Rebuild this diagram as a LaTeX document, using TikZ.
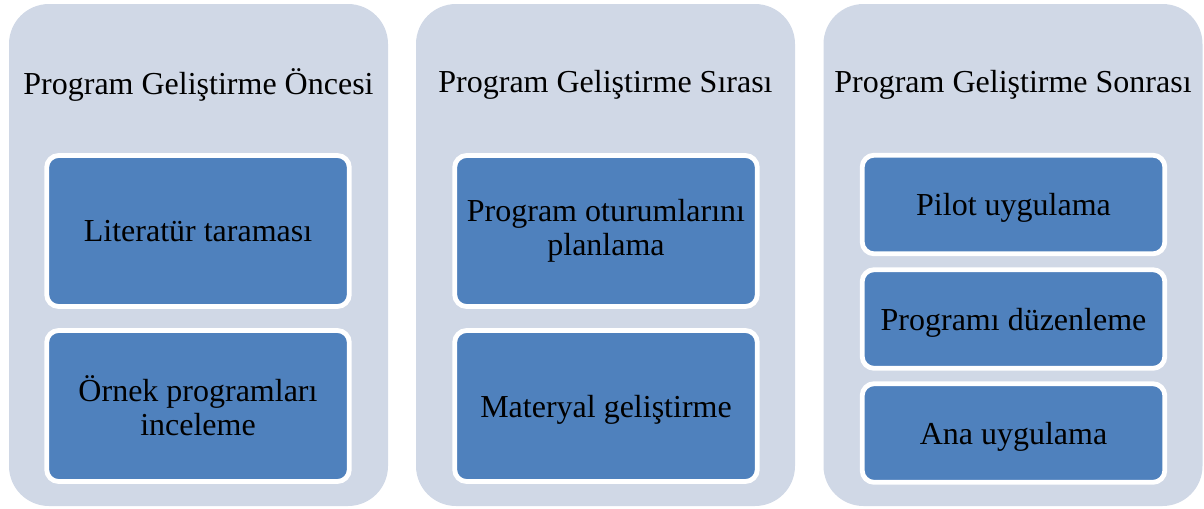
\documentclass[tikz,border=0pt]{standalone}
\usepackage{fontspec}
\setmainfont{Liberation Serif}
\usepackage{tikz}

\definecolor{panelfill}{RGB}{208,216,230}
\definecolor{boxfill}{RGB}{79,129,189}

\tikzset{
  panel/.style={fill=panelfill, rounded corners=30pt, minimum width=284.25pt, minimum height=376.5pt, inner sep=0pt},
  stage/.style={font=\fontsize{24}{26}\selectfont},
  stepbox/.style={fill=boxfill, draw=white, line width=3.6pt, rounded corners=9pt, minimum width=227pt, inner sep=0pt, align=center, font=\fontsize{24}{25.5}\selectfont},
  oneline/.style={text depth=0pt},
  tall/.style={minimum height=113.25pt},
  short/.style={minimum height=74pt}
}

\begin{document}
\begin{tikzpicture}[x=0.75pt,y=-0.75pt]
            \useasboundingbox (0,0) rectangle (1204,508);
            % panels
            \node[panel] (pre) at (198.5,255) {};
            \node[panel] (dur) at (605.5,255) {};
            \node[panel] (post) at (1013,255) {};
            \node[stage] (preT) at (198.5,85) {Program Geliştirme Öncesi};
            \node[stage] (durT) at (605.5,85) {Program Geliştirme Sırası};
            \node[stage] (postT) at (1013,85) {Program Geliştirme Sonrası};
            % boxes
            \node[stepbox, tall, oneline] (lit) at (198,231) {Literatür taraması};
            \node[stepbox, tall] (ornek) at (198,406) {Örnek programları\\inceleme};
            \node[stepbox, tall] (plan) at (606,231) {Program oturumlarını\\planlama};
            \node[stepbox, tall, oneline] (mat) at (606,406) {Materyal geliştirme};
            \node[stepbox, short, oneline] (pilot) at (1013.5,204.5) {Pilot uygulama};
            \node[stepbox, short, oneline] (duz) at (1013.5,319) {Programı düzenleme};
            \node[stepbox, short, oneline] (ana) at (1013.5,433) {Ana uygulama};
        \end{tikzpicture}
\end{document}
